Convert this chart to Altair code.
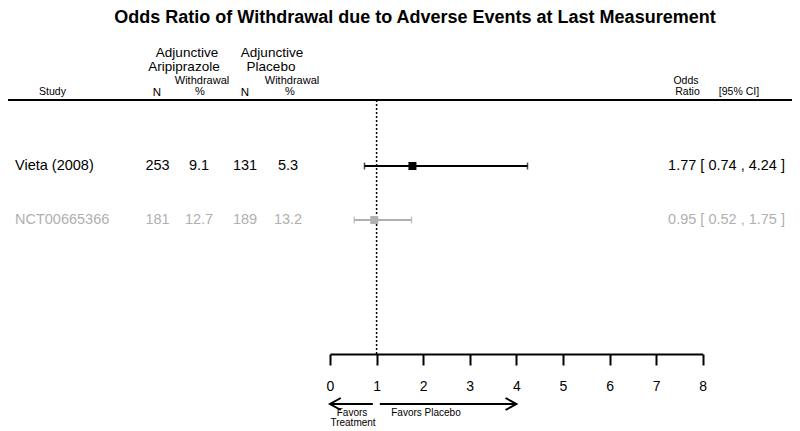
import altair as alt
import pandas as pd

# ---- data ----
studies = ["Vieta (2008)", "NCT00665366"]
rows = [1, 2]
arip_n = ["253", "181"]
arip_pct = ["9.1", "12.7"]
plac_n = ["131", "189"]
plac_pct = ["5.3", "13.2"]
odds = [1.77, 0.95]
ci_low = [0.74, 0.52]
ci_high = [4.24, 1.75]
row_colors = ["#000000", "#b0b0b0"]
x_ticks = [0, 1, 2, 3, 4, 5, 6, 7, 8]

df = pd.DataFrame({
    "study": studies, "row": rows,
    "arip_n": arip_n, "arip_pct": arip_pct,
    "plac_n": plac_n, "plac_pct": plac_pct,
    "or": odds, "lo": ci_low, "hi": ci_high,
})
df["label"] = [f"{o:.2f} [ {l:.2f} , {h:.2f} ]" for o, l, h in zip(odds, ci_low, ci_high)]

W, H = 784, 346
FONT = "Liberation Sans"

xscale = alt.Scale(domain=[0, 8], range=[322, 694.7], nice=False, zero=False)
yscale = alt.Scale(domain=[-1.926, 4.481], range=[0, H], nice=False, zero=False)
cscale = alt.Scale(domain=studies, range=row_colors)

base = alt.Chart(df)
color = alt.Color("study:N", scale=cscale, legend=None)
yenc = alt.Y("row:Q", scale=yscale, axis=None)

axis_layer = alt.Chart(pd.DataFrame({"t": x_ticks})).mark_point(opacity=0).encode(
    x=alt.X("t:Q", scale=xscale,
            axis=alt.Axis(values=x_ticks, title=None, grid=False, domainColor="black",
                          domainWidth=2, tickColor="black", tickWidth=2, tickSize=11,
                          labelFontSize=14, labelFont=FONT, labelColor="black",
                          labelPadding=14, format="d", labelFlush=False)),
    y=alt.value(H),
)

header_line = base.mark_rule(color="black", strokeWidth=2).encode(
    x=alt.value(0), x2=alt.value(W), y=alt.value(92))

ref_line = alt.Chart(pd.DataFrame({"v": [1]})).mark_rule(
    color="black", strokeWidth=1.5, strokeDash=[2, 2]).encode(
    x=alt.X("v:Q", scale=xscale), y=alt.value(92), y2=alt.value(H))

ci = base.mark_rule(strokeWidth=2).encode(
    x=alt.X("lo:Q", scale=xscale), x2="hi:Q", y=yenc, color=color)
cap_lo = base.mark_tick(orient="vertical", size=7, thickness=1.5).encode(
    x=alt.X("lo:Q", scale=xscale), y=yenc, color=color)
cap_hi = base.mark_tick(orient="vertical", size=7, thickness=1.5).encode(
    x=alt.X("hi:Q", scale=xscale), y=yenc, color=color)
pt = base.mark_square(size=64, opacity=1).encode(
    x=alt.X("or:Q", scale=xscale), y=yenc, color=color)

def col_text(field, xpx, align="center"):
    return base.mark_text(font=FONT, fontSize=14.5, align=align, baseline="middle").encode(
        x=alt.value(xpx), y=yenc, text=f"{field}:N", color=color)

texts = [
    col_text("study", 7, "left"),
    col_text("arip_n", 149.5),
    col_text("arip_pct", 191),
    col_text("plac_n", 237),
    col_text("plac_pct", 280),
    col_text("label", 777, "right"),
]

def label(txt, xpx, ypx, size, weight="normal", align="center"):
    return alt.Chart(pd.DataFrame({"t": [txt]})).mark_text(
        font=FONT, fontSize=size, fontWeight=weight, align=align, baseline="middle",
        color="black").encode(x=alt.value(xpx), y=alt.value(ypx), text="t:N")

headers = [
    label("Odds Ratio of Withdrawal due to Adverse Events at Last Measurement", 407, 10, 18, "bold"),
    label("Adjunctive", 179, 44.5, 13.5), label("Aripiprazole", 176, 58.5, 13.5),
    label("Adjunctive", 264, 44.5, 13.5), label("Placebo", 263, 58.5, 13.5),
    label("Study", 44.5, 84, 10.5),
    label("N", 149, 85, 11.5), label("Withdrawal", 194, 73, 11), label("%", 192, 84, 11),
    label("N", 237, 85, 11.5), label("Withdrawal", 284, 73, 11), label("%", 282, 84, 11),
    label("Odds", 678, 73, 10.5), label("Ratio", 679.5, 83.5, 10.5), label("[95% CI]", 731, 83.5, 10.5),
    label("Favors", 344, 405, 10), label("Treatment", 345, 414.5, 10),
    label("Favors Placebo", 418, 405, 10),
]

arrows_df = pd.DataFrame({"a": [0.92, 1.07], "b": [0.0, 4.0]})
arrow_lines = alt.Chart(arrows_df).mark_rule(color="black", strokeWidth=2).encode(
    x=alt.X("a:Q", scale=xscale), x2="b:Q", y=alt.value(396))
head_left = alt.Chart(pd.DataFrame({"p": [0.0]})).mark_point(
    shape="M1.8,-1L0,0L1.8,1", size=144, filled=False, color="black", strokeWidth=2, opacity=1).encode(
    x=alt.X("p:Q", scale=xscale), y=alt.value(396))
head_right = alt.Chart(pd.DataFrame({"p": [4.0]})).mark_point(
    shape="M-1.8,-1L0,0L-1.8,1", size=144, filled=False, color="black", strokeWidth=2, opacity=1).encode(
    x=alt.X("p:Q", scale=xscale), y=alt.value(396))

chart = alt.layer(
    axis_layer, header_line, ref_line, ci, cap_lo, cap_hi, pt, *texts, *headers,
    arrow_lines, head_left, head_right,
).properties(
    width=W, height=H,
    autosize=alt.AutoSizeParams(type="none"),
    padding={"left": 0, "top": 0, "right": 0, "bottom": 77},
    background="white",
).configure_view(stroke=None)

chart.save("out.html", embed_options={"renderer": "svg", "actions": False})
